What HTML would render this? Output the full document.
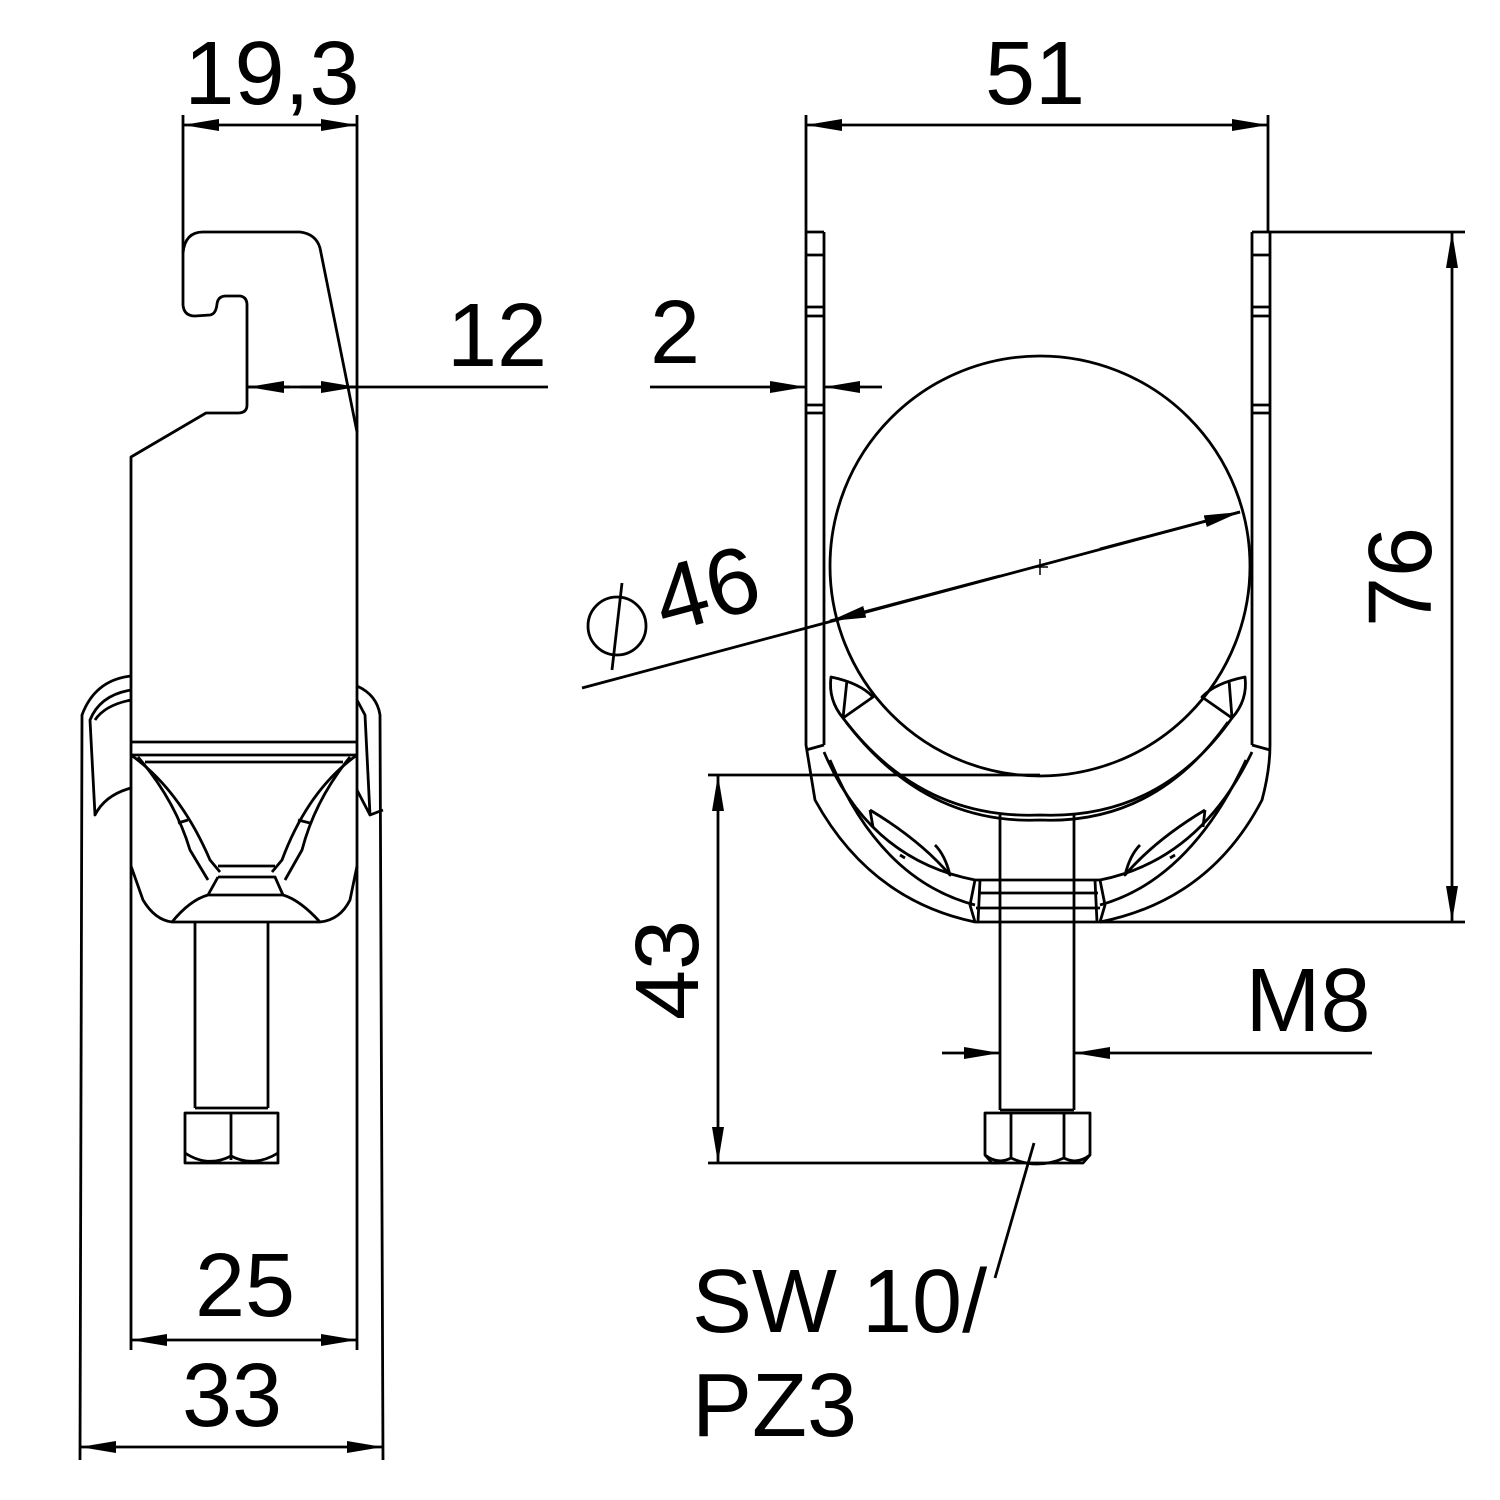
<!DOCTYPE html>
<html><head><meta charset="utf-8"><style>
html,body{margin:0;padding:0;background:#fff;}
svg{display:block;}
text{font-family:"Liberation Sans",Arial,sans-serif;fill:#000;}
</style></head><body>
<svg width="1500" height="1500" viewBox="0 0 1500 1500" xmlns="http://www.w3.org/2000/svg">
<defs>
<marker id="a" viewBox="0 0 36 12" refX="36" refY="6" markerWidth="36" markerHeight="12" markerUnits="userSpaceOnUse" orient="auto-start-reverse"><path d="M0,0 L36,6 L0,12 Z" fill="#000"/></marker>
</defs>
<g fill="none" stroke="#000" stroke-width="2.8" stroke-linejoin="round">
<!-- LEFT VIEW -->
<line x1="183" y1="115" x2="183" y2="253"/>
<line x1="357" y1="115" x2="357" y2="1350"/>
<line x1="183" y1="125" x2="357" y2="125" marker-start="url(#a)" marker-end="url(#a)"/>
<path d="M183,253 Q185,232 203,232 L300,232 Q316,234 320,248 L357,432"/>
<path d="M183,253 L183,305 Q184,316 195,316 L210,315 Q216,314 217,304 Q218,296 226,296 L240,296 Q247,297 247,305 L247,405 Q247,413 238,413 L206,413 L131,457 L131,1350"/>
<line x1="248" y1="387" x2="548" y2="387"/>
<line x1="290" y1="387" x2="248" y2="387" marker-end="url(#a)"/>
<line x1="300" y1="387" x2="357" y2="387" marker-end="url(#a)"/>
<line x1="131" y1="742" x2="357" y2="742"/>
<line x1="131" y1="755" x2="357" y2="755"/>
<line x1="145" y1="762" x2="343" y2="762"/>
<path d="M131,755 Q180,790 210,860 L220,872 M357,755 Q308,790 282,860 L272,872"/>
<path d="M138,757 Q175,800 190,850 L208,880 M350,757 Q315,800 302,850 L285,880"/>
<path d="M218,866 L275,866 M218,877 L275,877 L283,895 M218,877 L208,895 L283,895"/>
<path d="M131,866 L143,900 Q155,920 172,922 L320,922 Q340,920 350,900 L357,866"/>
<path d="M172,922 Q190,900 208,895 M320,922 Q300,900 283,895"/>
<line x1="178" y1="823" x2="188" y2="820"/>
<line x1="298" y1="820" x2="310" y2="823"/>
<path d="M131,676 Q95,680 82,715 L80,1460"/>
<path d="M131,690 Q100,695 90,720 L95,815 Q105,795 131,788"/>
<path d="M131,700 Q105,705 95,720"/>
<path d="M357,686 Q377,695 380,715 L383,1460"/>
<path d="M357,700 L365,715 L370,815 L383,810 M357,790 L370,815"/>
<line x1="195" y1="922" x2="195" y2="1108"/>
<line x1="268" y1="922" x2="268" y2="1108"/>
<line x1="195" y1="1108" x2="268" y2="1108"/>
<path d="M185,1113 L278,1113 L278,1163 L185,1163 Z"/>
<line x1="231" y1="1113" x2="231" y2="1160"/>
<path d="M185,1153 Q208,1168 231,1156 Q254,1168 278,1153"/>
<line x1="131" y1="1340" x2="357" y2="1340" marker-start="url(#a)" marker-end="url(#a)"/>
<line x1="80" y1="1447" x2="383" y2="1447" marker-start="url(#a)" marker-end="url(#a)"/>

<!-- RIGHT VIEW -->
<line x1="806" y1="115" x2="806" y2="232"/>
<line x1="1268" y1="115" x2="1268" y2="232"/>
<line x1="806" y1="125" x2="1268" y2="125" marker-start="url(#a)" marker-end="url(#a)"/>
<path d="M806,232 L806,745 Q810,770 815,800 Q870,900 975,922 L1100,922 Q1210,900 1262,800 Q1270,770 1270,745 L1270,232"/>
<path d="M824,232 L824,745 M1252,232 L1252,745"/>
<path d="M806,232 L824,232 M1252,232 L1270,232"/>
<path d="M806,255 L824,255 M806,307 L824,307 M806,316 L824,316 M806,405 L824,405 M806,413 L824,413"/>
<path d="M1252,255 L1270,255 M1252,307 L1270,307 M1252,316 L1270,316 M1252,405 L1270,405 M1252,413 L1270,413"/>
<path d="M806,750 L824,745 M1270,750 L1252,745"/>
<path d="M824,752 Q870,860 975,880 M1252,752 Q1200,860 1100,880"/>
<path d="M830,760 Q880,880 975,905 M1246,760 Q1190,880 1100,905"/>
<path d="M843,718 Q920,820 1040,815 Q1160,820 1232,718"/>
<path d="M846,722 Q925,825 1040,820 Q1155,825 1228,722"/>
<path d="M831,677 Q828,700 843,718 L873,697 Q860,683 831,677 Z M847,680 L843,718"/>
<path d="M1245,677 Q1248,700 1232,718 L1202,697 Q1215,683 1245,677 Z M1229,680 L1232,718"/>
<path d="M870,810 Q920,840 950,875 Q945,855 935,845 M1205,810 Q1155,840 1125,875 Q1130,855 1140,845"/>
<path d="M870,810 L873,827 M900,855 L905,858 M1205,810 L1203,827 M1175,855 L1170,858"/>
<path d="M975,880 L1100,880 M978,893 L1098,893 M976,908 L1100,908"/>
<path d="M975,880 L970,905 L975,922 M1100,880 L1105,905 L1100,922"/>
<path d="M980,880 L978,922 M1095,880 L1097,922"/>
<circle cx="1040" cy="566" r="210"/>
<path d="M1032,567 L1048,567 M1040,559 L1040,575" stroke-width="1.5"/>
<line x1="582" y1="688" x2="1240" y2="512"/>
<line x1="1000" y1="576" x2="830" y2="621" marker-end="url(#a)"/>
<line x1="1100" y1="549" x2="1240" y2="512" marker-end="url(#a)"/>
<circle cx="617" cy="626" r="29"/>
<line x1="622" y1="583" x2="612" y2="670"/>
<line x1="650" y1="387" x2="806" y2="387" marker-end="url(#a)"/>
<line x1="882" y1="387" x2="824" y2="387" marker-end="url(#a)"/>
<line x1="1270" y1="232" x2="1465" y2="232"/>
<line x1="1100" y1="922" x2="1465" y2="922"/>
<line x1="1452" y1="232" x2="1452" y2="922" marker-start="url(#a)" marker-end="url(#a)"/>
<line x1="708" y1="775" x2="1040" y2="775"/>
<line x1="708" y1="1163" x2="1000" y2="1163"/>
<line x1="718" y1="775" x2="718" y2="1163" marker-start="url(#a)" marker-end="url(#a)"/>
<line x1="1000" y1="815" x2="1000" y2="1110"/>
<line x1="1074" y1="815" x2="1074" y2="1110"/>
<line x1="1000" y1="1110" x2="1074" y2="1110"/>
<path d="M985,1113 L1090,1113 L1090,1155 L1083,1163 L992,1163 L985,1155 Z"/>
<line x1="1011" y1="1113" x2="1011" y2="1158"/>
<line x1="1064" y1="1113" x2="1064" y2="1158"/>
<path d="M985,1155 Q998,1165 1011,1158 Q1037,1170 1064,1158 Q1077,1165 1090,1155"/>
<line x1="1034" y1="1143" x2="995" y2="1278"/>
<line x1="942" y1="1053" x2="1000" y2="1053" marker-end="url(#a)"/>
<line x1="1372" y1="1053" x2="1074" y2="1053" marker-end="url(#a)"/>
</g>
<g font-size="90">
<text x="272" y="104" text-anchor="middle">19,3</text>
<text x="497" y="366" text-anchor="middle">12</text>
<text x="245" y="1316" text-anchor="middle">25</text>
<text x="232" y="1426" text-anchor="middle">33</text>
<text x="1035" y="104" text-anchor="middle">51</text>
<text x="675" y="363" text-anchor="middle">2</text>
<text x="1308" y="1031" text-anchor="middle">M8</text>
<text x="692" y="1332">SW 10/</text>
<text x="692" y="1436">PZ3</text>
<text transform="translate(1431,577) rotate(-90)" text-anchor="middle">76</text>
<text transform="translate(698,970) rotate(-90)" text-anchor="middle">43</text>
<text transform="translate(715,620) rotate(-15)" text-anchor="middle" font-size="94">46</text>
</g>
</svg>
</body></html>
